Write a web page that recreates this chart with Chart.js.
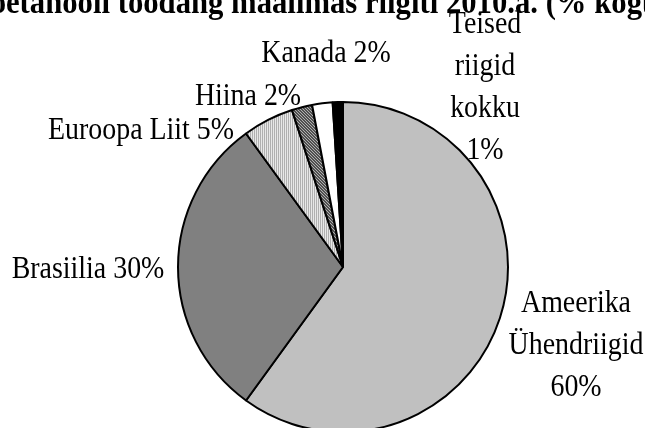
<!DOCTYPE html>
<html>
<head>
<meta charset="utf-8">
<script src="https://cdn.jsdelivr.net/npm/chart.js@4/dist/chart.umd.min.js"></script>
<style>
  html, body { margin: 0; padding: 0; background: #fff; overflow: hidden; }
  canvas { display: block; }
</style>
</head>
<body>
<canvas id="pie" width="645" height="428"></canvas>
<script>
// Data
const categories = ['Ameerika Ühendriigid', 'Brasiilia', 'Euroopa Liit', 'Hiina', 'Kanada', 'Teised riigid kokku'];
const shares = [60, 30, 5, 2, 2, 1];
const titleText = 'Bioetanooli toodang maailmas riigiti 2010.a. (% kogutoodangust)';

// Label placement (center x, first baseline y, split words onto lines)
const labelLayout = [
    { x: 576, y: 312, wrap: true },
    { x: 88, y: 278, wrap: false },
    { x: 141, y: 139, wrap: false },
    { x: 248, y: 105, wrap: false },
    { x: 326, y: 62, wrap: false },
    { x: 485, y: 33, wrap: true }
];
const lineGap = 42;
const labelFont = '31px "Liberation Serif", "DejaVu Serif", serif';
const squeeze = 0.9; // text in the original is a bit condensed

// Fill patterns like the old office chart
function stripePattern() {
    const c = document.createElement('canvas');
    c.width = 2; c.height = 2;
    const g = c.getContext('2d');
    g.fillStyle = '#e8e8e8'; g.fillRect(0, 0, 2, 2);
    g.fillStyle = '#b0b0b0'; g.fillRect(0, 0, 1, 2);
    return g.createPattern(c, 'repeat');
}
function hatchPattern() {
    const c = document.createElement('canvas');
    c.width = 3; c.height = 3;
    const g = c.getContext('2d');
    g.fillStyle = '#b0b0b0'; g.fillRect(0, 0, 3, 3);
    g.fillStyle = '#505050';
    g.fillRect(0, 0, 1, 1); g.fillRect(1, 1, 1, 1); g.fillRect(2, 2, 1, 1);
    g.fillRect(1, 0, 1, 1); g.fillRect(2, 1, 1, 1); g.fillRect(0, 2, 1, 1);
    return g.createPattern(c, 'repeat');
}

const ctx = document.getElementById('pie').getContext('2d');
const fills = ['#c0c0c0', '#808080', stripePattern(), hatchPattern(), '#ffffff', '#000000'];

function squeezedText(g, text, x, y, sx) {
    g.save();
    g.translate(x, y);
    g.scale(sx, 1);
    g.fillText(text, 0, 0);
    g.restore();
}

// Labels and clipped title drawn on top
const labelPlugin = {
    id: 'labels',
    afterDraw(chart) {
        const g = chart.ctx;
        g.save();
        g.fillStyle = '#000';
        g.textBaseline = 'alphabetic';

        // title runs off both edges in the source image
        g.font = 'bold 34px "Liberation Serif", "DejaVu Serif", serif';
        g.textAlign = 'left';
        const lead = g.measureText('Bio').width;
        const seen = g.measureText('etanooli toodang maailmas riigiti 2010.a. (% kog').width;
        const tsx = 636 / seen;
        squeezedText(g, titleText, 6 - lead * tsx, 13, tsx);

        g.font = labelFont;
        g.textAlign = 'center';
        categories.forEach((name, i) => {
            const pos = labelLayout[i];
            const text = name + ' ' + shares[i] + '%';
            const lines = pos.wrap ? text.split(' ') : [text];
            lines.forEach((ln, k) => squeezedText(g, ln, pos.x, pos.y + k * lineGap, squeeze));
        });
        g.restore();
    }
};

new Chart(ctx, {
    type: 'pie',
    data: {
        labels: categories,
        datasets: [{
            data: shares,
            backgroundColor: fills,
            borderColor: '#000000',
            borderWidth: 2,
            radius: 165
        }]
    },
    options: {
        responsive: false,
        animation: false,
        devicePixelRatio: 1,
        layout: { padding: { left: 41, right: 0, top: 106, bottom: 0 } },
        plugins: {
            legend: { display: false },
            tooltip: { enabled: false },
            title: { display: false }
        }
    },
    plugins: [labelPlugin]
});
</script>
</body>
</html>
